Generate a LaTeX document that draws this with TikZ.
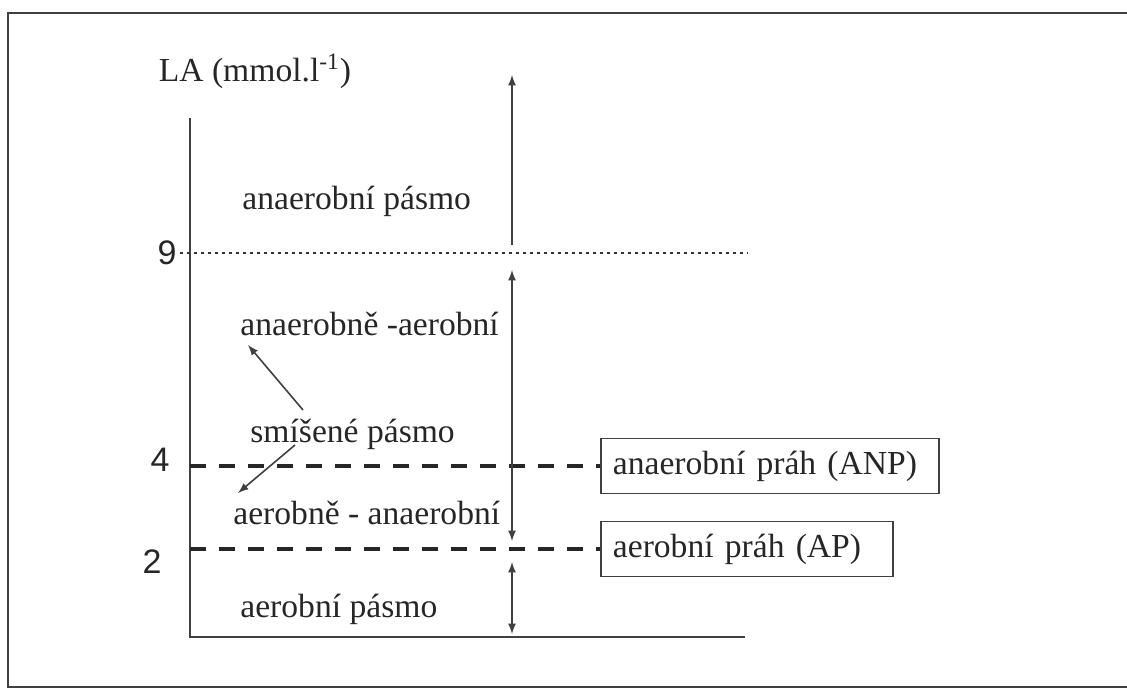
\documentclass[tikz,border=0pt]{standalone}
\usepackage{fontspec}
\setmainfont{Liberation Serif}
\newfontfamily\axisfont{Liberation Sans}
\begin{document}
\begin{tikzpicture}[x=0.5pt,y=-0.5pt,>=latex]
\tikzstyle{zone}=[font=\fontsize{16.8}{20}\selectfont, text=black!85, inner sep=0pt, anchor=base west]
\tikzstyle{level}=[font=\axisfont\fontsize{17}{20}\selectfont, text=black!85, inner sep=0pt]
\tikzstyle{threshold}=[draw=black!75, line width=0.9pt, rectangle, anchor=west, font=\fontsize{16.8}{20}\selectfont, text=black!85, align=left, minimum height=27.5pt, inner xsep=6pt, inner ysep=0pt]
\tikzstyle{limit}=[line width=2pt, dash pattern=on 8pt off 6.5pt, black!85]
\tikzstyle{line}=[line width=0.8pt, black!75]
\useasboundingbox (0,0) rectangle (1127,689);
\draw[line] (1127,13) -- (8,13) -- (8,687) -- (1127,687);

\coordinate (top) at (190,118);
\coordinate (O)   at (190,637);
\coordinate (end) at (745,637);
\draw[line] (top) -- (O) -- (end);

\node[zone, anchor=base] (LA) at (255,82) {LA (mmol.l\textsuperscript{-1})};

\node[level] (n9) at (167,253) {9};
\node[level] (n4) at (160,460) {4};
\node[level] (n2) at (152,562) {2};

\node[threshold, text width=157pt] (ANP) at (600,466) {anaerobní práh (ANP)};
\node[threshold, text width=134pt] (AP)  at (600,549) {aerobní práh (AP)};

\coordinate (d9)  at (180,253);
\coordinate (d9e) at (748,253);
\draw[black!80, line width=0.9pt, dash pattern=on 1.5pt off 2pt] (d9) -- (d9e);
\draw[limit] (O |- ANP.west) -- (ANP.west);
\draw[limit] (O |- AP.west) -- (AP.west);

\coordinate (up1) at (512,245);
\coordinate (up2) at (512,75);
\coordinate (mid1) at (512,270);
\coordinate (mid2) at (512,541);
\coordinate (low1) at (512,562);
\coordinate (low2) at (512,634);
\draw[line, ->] (up1) -- (up2);
\draw[line, <->] (mid1) -- (mid2);
\draw[line, <->] (low1) -- (low2);

\node[zone] (anp) at (242,210) {anaerobní pásmo};
\node[zone] (ana) at (240,335) {anaerobně -aerobní};
\node[zone] (mix) at (250,442) {smíšené pásmo};
\node[zone] (aea) at (233,524) {aerobně - anaerobní};
\node[zone] (aep) at (240,617) {aerobní pásmo};

\coordinate (s1) at (303,410);
\coordinate (e1) at (248,345);
\coordinate (s2) at (295,445);
\coordinate (e2) at (238,493);
\draw[line, ->] (s1) -- (e1);
\draw[line, ->] (s2) -- (e2);
\end{tikzpicture}
\end{document}
